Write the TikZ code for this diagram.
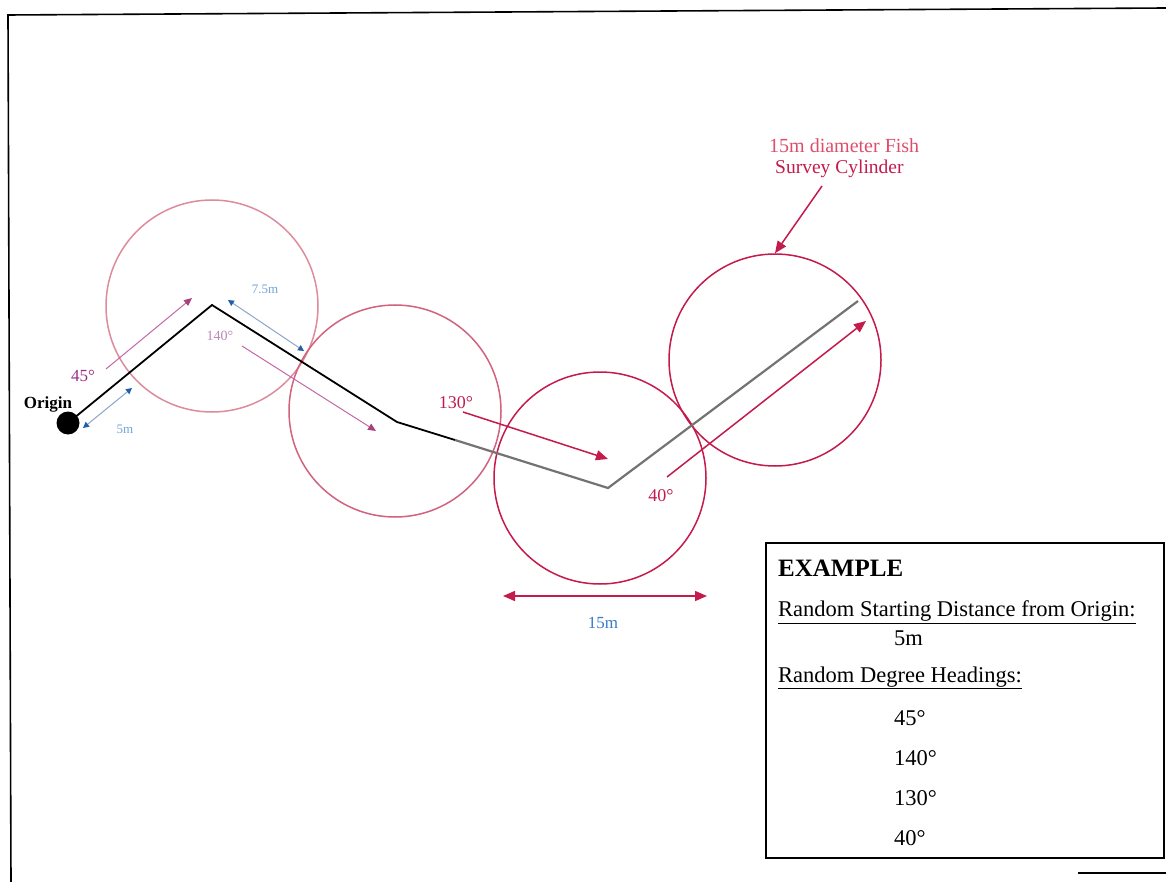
\documentclass[tikz,border=0pt]{standalone}
\usepackage{fontspec}
\setmainfont{Liberation Serif}
\usetikzlibrary{arrows.meta}
\definecolor{crim}{HTML}{C41A4C}
\definecolor{crimlight}{HTML}{DC8C9C}
\definecolor{crimmid}{HTML}{D2627E}
\definecolor{callout}{HTML}{DE4E6C}
\definecolor{purp}{HTML}{C06AA8}
\definecolor{purptip}{HTML}{A8407E}
\definecolor{purptext}{HTML}{9A2F88}
\definecolor{purplight}{HTML}{B88AB8}
\definecolor{bluetext}{HTML}{3A7CC8}
\definecolor{bluetip}{HTML}{1F5FA8}
\definecolor{blueline}{HTML}{8AA6CC}
\newcommand{\fs}[1]{\fontsize{#1}{#1}\selectfont}
\tikzset{
  cyl/.style={circle, draw=#1, line width=1.5pt, minimum size=212pt, inner sep=0pt},
  redarrow/.style={draw=crim, line width=1.5pt, -{Triangle[length=12pt,width=10pt]}},
  purparrow/.style={draw=purp, line width=1pt, -{Triangle[length=8pt,width=7pt,color=purptip]}},
  bluedim/.style={draw=blueline, line width=1pt,
    {Triangle[length=6pt,width=6pt,color=bluetip]}-{Triangle[length=6pt,width=6pt,color=bluetip]}},
  route/.style={line width=1.8pt, line join=miter},
  lbl/.style={inner sep=0pt, anchor=center},
  boxtext/.style={inner sep=0pt, anchor=west, font=\fs{22.5}},
}
\begin{document}
\begin{tikzpicture}[x=1pt,y=-1pt]
\useasboundingbox (0,0) rectangle (1166,882);
\fill[white] (0,0) rectangle (1166,882);

% page frame
\coordinate (ftl) at (8,15);
\coordinate (ftr) at (1166,8);
\coordinate (fbl) at (11,882);
\draw[line width=1.6pt] (fbl) -- (ftl) -- (ftr);
\coordinate (fbr1) at (1078,873);
\coordinate (fbr2) at (1166,873);
\draw[line width=1.2pt] (fbr1) -- (fbr2);

% survey cylinders
\node[cyl=crimlight] (c1) at (212,306) {};
\node[cyl=crimmid]   (c2) at (395,411) {};
\node[cyl=crim]      (c3) at (600,478) {};
\node[cyl=crim]      (c4) at (775,360) {};

% swim route
\node[circle, fill=black, minimum size=23pt, inner sep=0pt] (origin) at (68,423) {};
\coordinate (p1) at (212,305);
\coordinate (p2) at (397,422);
\coordinate (pm) at (455,440);
\coordinate (p3) at (608,488);
\coordinate (p4) at (858,301);
\draw[route] (origin.center) -- (p1) -- (p2) -- (pm);
\draw[route, line width=2.2pt, draw=black!55] (pm) -- (p3) -- (p4);

% heading arrows
\coordinate (h45a) at (106,369);   \coordinate (h45b) at (192,298);
\coordinate (h140a) at (242,346);  \coordinate (h140b) at (376,431);
\coordinate (h130a) at (463,412);  \coordinate (h130b) at (608,459);
\coordinate (h40a) at (667,477);   \coordinate (h40b) at (866,321);
\draw[purparrow] (h45a) -- (h45b);
\draw[purparrow] (h140a) -- (h140b);
\draw[redarrow] (h130a) -- (h130b);
\draw[redarrow] (h40a) -- (h40b);

% distance markers
\coordinate (d5a) at (83,428);   \coordinate (d5b) at (132,388);
\coordinate (d75a) at (228,300); \coordinate (d75b) at (304,351);
\draw[bluedim] (d5a) -- (d5b);
\draw[bluedim] (d75a) -- (d75b);
\coordinate (d15a) at (503,596); \coordinate (d15b) at (707,596);
\draw[redarrow, {Triangle[length=12pt,width=10pt]}-{Triangle[length=12pt,width=10pt]}] (d15a) -- (d15b);

% labels
\node[lbl, font=\bfseries\fs{17}] (lorigin) at (48,404) {Origin};
\node[lbl, font=\fs{17}, text=purptext] (l45) at (83,376) {45°};
\node[lbl, font=\fs{13}, text=bluetext!70] (l5) at (125,429) {5m};
\node[lbl, font=\fs{13}, text=bluetext!70] (l75) at (265,289) {7.5m};
\node[lbl, font=\fs{14}, text=purplight] (l140) at (220,336) {140°};
\node[lbl, font=\fs{18}, text=crim] (l130) at (456,403) {130°};
\node[lbl, font=\fs{18}, text=crim] (l40) at (661,496) {40°};
\node[lbl, font=\fs{17}, text=bluetext] (l15) at (603,623) {15m};

% callout
\node[inner sep=0pt, anchor=west, font=\fs{20}, text=callout] (cap1) at (769,146) {15m diameter Fish};
\node[inner sep=0pt, anchor=west, font=\fs{19.5}, text=crim] (cap2) at (775,169) {Survey Cylinder};
\coordinate (ca) at (822,186);
\draw[redarrow] (ca) -- (c4.north);

% example box
\node[draw, line width=1.3pt, minimum width=398pt, minimum height=315pt, inner sep=0pt] (box) at (965,700.5) {};
\node[inner sep=0pt, anchor=west, font=\bfseries\fs{25}] (ex) at (778,568) {EXAMPLE};
\node[boxtext] (t1) at (778,612) {\underline{Random Starting Distance from Origin:}};
\node[boxtext] (t2) at (894,638) {5m};
\node[boxtext] (t3) at (778,678) {\underline{Random Degree Headings:}};
\node[boxtext] (t4) at (894,718) {45°};
\node[boxtext] (t5) at (894,758) {140°};
\node[boxtext] (t6) at (894,798) {130°};
\node[boxtext] (t7) at (894,838) {40°};
\end{tikzpicture}
\end{document}
